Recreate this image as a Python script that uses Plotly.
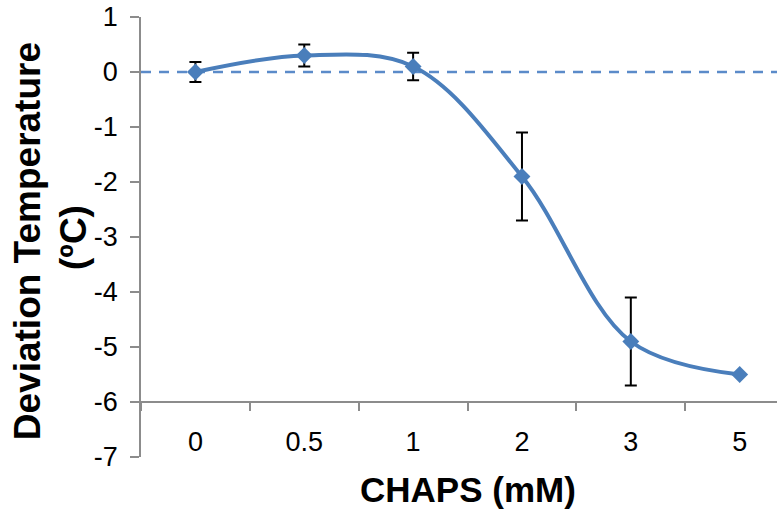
import plotly.graph_objects as go

# CHAPS concentration categories and measured temperature deviation
chaps_mM = ["0", "0.5", "1", "2", "3", "5"]
deviation_C = [0.0, 0.3, 0.1, -1.9, -4.9, -5.5]
error_C = [0.18, 0.2, 0.25, 0.8, 0.8, 0.0]

y_ticks = [1, 0, -1, -2, -3, -4, -5, -6, -7]

BLUE = "#4A7EBB"
AXIS_GREY = "#8C8C8C"
FONT = "Liberation Sans, Arial, sans-serif"

fig = go.Figure()

fig.add_trace(
    go.Scatter(
        x=chaps_mM,
        y=deviation_C,
        mode="lines+markers",
        line=dict(color=BLUE, width=4, shape="spline", smoothing=1),
        marker=dict(symbol="diamond", size=13, color=BLUE),
        error_y=dict(
            type="data",
            array=error_C,
            visible=True,
            color="black",
            thickness=2,
            width=6,
        ),
        showlegend=False,
        cliponaxis=False,
    )
)

# reference line at zero deviation
fig.add_hline(y=0, line=dict(color="#5B8BC9", width=2.5, dash="10px,8px"), layer="below")

title_font = dict(size=37, family=FONT, color="black", weight="bold")

fig.update_layout(
    width=777,
    height=523,
    margin=dict(l=141, r=0, t=17, b=66),
    paper_bgcolor="white",
    plot_bgcolor="white",
    font=dict(family=FONT, color="black"),
    xaxis=dict(
        type="category",
        categoryorder="array",
        categoryarray=chaps_mM,
        range=[-0.5, 5.343],
        anchor="free",
        position=0.125,
        showline=True,
        linecolor=AXIS_GREY,
        linewidth=1.5,
        showgrid=False,
        zeroline=False,
        ticks="outside",
        tickson="boundaries",
        ticklen=8,
        tickwidth=1.5,
        tickcolor=AXIS_GREY,
        tickfont=dict(size=27, family=FONT, color="black"),
        ticklabelstandoff=16,
    ),
    yaxis=dict(
        range=[-7, 1],
        tickvals=y_ticks,
        ticktext=[str(v) for v in y_ticks],
        showline=True,
        linecolor=AXIS_GREY,
        linewidth=1.5,
        showgrid=False,
        zeroline=False,
        ticks="outside",
        ticklen=9,
        tickwidth=1.5,
        tickcolor=AXIS_GREY,
        tickfont=dict(size=27, family=FONT, color="black"),
        ticklabelstandoff=7,
    ),
    annotations=[
        dict(
            text="CHAPS (mM)",
            xref="paper",
            yref="paper",
            x=0.514,
            y=-0.026,
            xanchor="center",
            yanchor="top",
            showarrow=False,
            font=dict(size=35, family=FONT, color="black", weight="bold"),
        ),
        # two-line rotated y-axis title, one annotation per line
        dict(
            text="Deviation Temperature",
            xref="paper",
            yref="paper",
            x=-0.178,
            y=0.49,
            xanchor="center",
            yanchor="middle",
            textangle=-90,
            showarrow=False,
            font=title_font,
        ),
        dict(
            text="(ºC)",
            xref="paper",
            yref="paper",
            x=-0.107,
            y=0.50,
            xanchor="center",
            yanchor="middle",
            textangle=-90,
            showarrow=False,
            font=title_font,
        ),
    ],
)

fig.write_html("out.html")
